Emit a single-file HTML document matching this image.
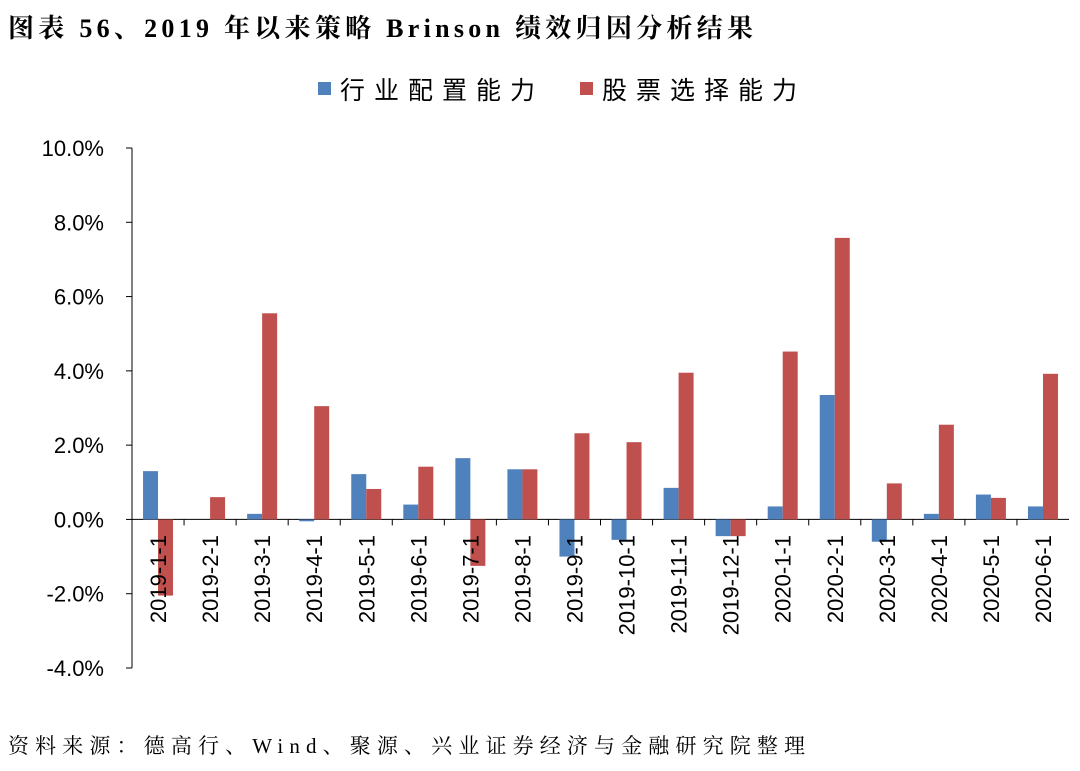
<!DOCTYPE html>
<html><head><meta charset="utf-8"><style>
body{margin:0;background:#fff;width:1080px;height:771px;overflow:hidden}
svg{display:block}
</style></head><body>
<svg id="c" width="1080" height="771" xmlns="http://www.w3.org/2000/svg">
<text x="8" y="37" font-family="'Liberation Serif','Noto Serif CJK SC',serif" font-weight="bold" font-size="26" textLength="745" lengthAdjust="spacing" fill="#000">图表 56、2019 年以来策略 Brinson 绩效归因分析结果</text>
<g>
<rect x="318" y="82" width="13" height="13" fill="#4F81BD"/>
<text x="340" y="99" font-family="'Liberation Sans','Noto Sans CJK SC',sans-serif" font-size="25" textLength="195" lengthAdjust="spacing">行业配置能力</text>
<rect x="580" y="82" width="13" height="13" fill="#C0504D"/>
<text x="602" y="99" font-family="'Liberation Sans','Noto Sans CJK SC',sans-serif" font-size="25" textLength="195" lengthAdjust="spacing">股票选择能力</text>
</g>
<g id="plot"></g>
<text x="8" y="753" font-family="'Liberation Serif','Noto Serif CJK SC',serif" font-size="21" textLength="797" lengthAdjust="spacing">资料来源：德高行、Wind、聚源、兴业证券经济与金融研究院整理</text>
</svg>
<script>
const categories=["2019-1-1","2019-2-1","2019-3-1","2019-4-1","2019-5-1","2019-6-1","2019-7-1","2019-8-1","2019-9-1","2019-10-1","2019-11-1","2019-12-1","2020-1-1","2020-2-1","2020-3-1","2020-4-1","2020-5-1","2020-6-1"];
const industryValues=[1.3,0,0.15,-0.05,1.22,0.4,1.65,1.35,-1.0,-0.55,0.85,-0.45,0.35,3.35,-0.6,0.15,0.67,0.35];
const stockValues=[-2.05,0.6,5.55,3.05,0.82,1.42,-1.25,1.35,2.32,2.08,3.95,-0.45,4.52,7.58,0.97,2.55,0.58,3.92];
const yTicks=[-4,-2,0,2,4,6,8,10];
const NS="http://www.w3.org/2000/svg";
const g=document.getElementById('plot');
const L=132,R=1069,T=148,B=668,yMin=-4,yMax=10;
const y=v=>B-(v-yMin)/(yMax-yMin)*(B-T);
const step=(R-L)/categories.length;
const x=i=>L+i*step;
function mk(t,a){const e=document.createElementNS(NS,t);for(const k in a)e.setAttribute(k,a[k]);g.appendChild(e);return e;}
let ax=mk('line',{x1:L,y1:T,x2:L,y2:B,stroke:'#000','stroke-width':1});


yTicks.forEach(v=>{
 const tk=mk('line',{x1:L-6,y1:y(v),x2:L,y2:y(v),stroke:'#000'});
 
 
 const t=mk('text',{x:L-28,y:y(v)+8,'text-anchor':'end','font-family':'Liberation Sans,sans-serif','font-size':22});
 t.textContent=v.toFixed(1)+'%';
 
 
});
const x0=mk('line',{x1:L,y1:y(0),x2:R,y2:y(0),stroke:'#000'});


const bw=15;
categories.forEach((c,i)=>{
 const cx=x(i)+step/2;
 const tk=mk('line',{x1:x(i),y1:y(0),x2:x(i),y2:y(0)+6,stroke:'#000'});
 
 
 [[industryValues[i],'#4F81BD',cx-bw,'bar-industry'],[stockValues[i],'#C0504D',cx,'bar-stock']].forEach(([v,col,bx,nm])=>{
  const r=mk('rect',{x:bx,y:Math.min(y(v),y(0)),width:bw,height:Math.abs(y(v)-y(0)),fill:col});
  
  
 });
 const t=mk('text',{x:0,y:0,'text-anchor':'end','font-family':'Liberation Sans,sans-serif','font-size':22,transform:`translate(${cx+8},535) rotate(-90)`});
 t.textContent=c;
 
 
});
</script>
</body></html>
